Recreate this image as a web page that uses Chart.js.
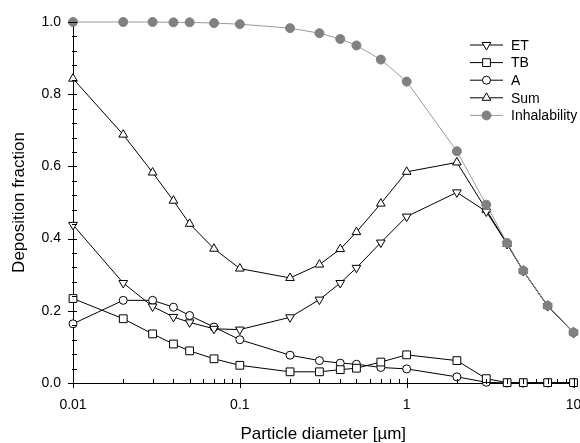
<!DOCTYPE html>
<html>
<head>
<meta charset="utf-8">
<script src="https://cdn.jsdelivr.net/npm/chart.js@4/dist/chart.umd.min.js"></script>
<style>
  html, body { margin:0; padding:0; background:#fff; }
  #wrap { position:relative; width:580px; height:443px; overflow:hidden; }
</style>
</head>
<body>
<div id="wrap"><canvas id="c" width="580" height="443"></canvas></div>
<script>
// particle diameter [um]
const DIAMETER = [0.01,0.02,0.03,0.04,0.05,0.07,0.1,0.2,0.3,0.4,0.5,0.7,1,2,3,4,5,7,10];
const ET    = [0.438,0.277,0.212,0.183,0.168,0.150,0.148,0.182,0.231,0.277,0.319,0.389,0.461,0.528,0.475,0.385,0.310,0.213,0.139];
const TB    = [0.234,0.178,0.136,0.108,0.089,0.067,0.049,0.031,0.031,0.037,0.041,0.058,0.078,0.062,0.012,0.001,0.001,0.001,0.001];
const A     = [0.164,0.229,0.229,0.210,0.187,0.155,0.120,0.077,0.062,0.055,0.052,0.043,0.039,0.017,0.002,0.000,0.000,0.000,0.000];
const SUM   = [0.843,0.688,0.583,0.505,0.441,0.372,0.317,0.291,0.328,0.371,0.418,0.497,0.585,0.611,0.480,0.386,0.311,0.214,0.140];
const INHAL = [1.000,1.000,1.000,0.999,0.999,0.997,0.994,0.983,0.969,0.953,0.935,0.896,0.835,0.642,0.494,0.388,0.311,0.214,0.140];

const X_MAJOR = [0.01,0.1,1,10];
const X_MINOR = [0.02,0.03,0.04,0.05,0.06,0.07,0.08,0.09,0.2,0.3,0.4,0.5,0.6,0.7,0.8,0.9,2,3,4,5,6,7,8,9];
const Y_MAJOR = [0,0.2,0.4,0.6,0.8,1.0];
const Y_MINOR = [0.04,0.08,0.12,0.16,0.24,0.28,0.32,0.36,0.44,0.48,0.52,0.56,0.64,0.68,0.72,0.76,0.84,0.88,0.92,0.96];

const FONT = "Liberation Sans, Arial, Helvetica, sans-serif";
const GRAY = "#808080";

const pts = arr => DIAMETER.map((d,i)=>({x:d, y:arr[i]}));
function series(label, arr, style, radius, rotation){
  return {
    label, data: pts(arr), borderColor:"#000", borderWidth:1,
    pointStyle:style, pointRadius:radius, pointRotation:rotation||0,
    pointBackgroundColor:"#fff", pointBorderColor:"#000", pointBorderWidth:1,
    order:1, clip:false
  };
}
const datasets = [
  series("ET", ET, "triangle", 5, 180),
  series("TB", TB, "rect", 5.5),
  series("A", A, "circle", 4),
  series("Sum", SUM, "triangle", 5),
  { label:"Inhalability", data: pts(INHAL), borderColor:"#9a9a9a", borderWidth:1,
    pointStyle:"circle", pointRadius:4.5, pointBackgroundColor:GRAY, pointBorderColor:GRAY,
    pointBorderWidth:1, order:0, clip:false }
];

// tick marks crossing the axis lines, major + minor
const tickPlugin = {
  id:"axisTicks",
  afterDraw(chart){
    const ctx = chart.ctx, xs = chart.scales.x, ys = chart.scales.y;
    const a = chart.chartArea;
    ctx.save();
    ctx.strokeStyle = "#000"; ctx.lineWidth = 1;
    ctx.beginPath();
    Y_MAJOR.forEach(v=>{ const p = Math.round(ys.getPixelForValue(v))+0.5; ctx.moveTo(a.left-5,p); ctx.lineTo(a.left+4,p); });
    Y_MINOR.forEach(v=>{ const p = Math.round(ys.getPixelForValue(v))+0.5; ctx.moveTo(a.left-1,p); ctx.lineTo(a.left+4,p); });
    X_MAJOR.forEach(v=>{ const p = Math.round(xs.getPixelForValue(v))+0.5; ctx.moveTo(p,a.bottom+5); ctx.lineTo(p,a.bottom-5); });
    X_MINOR.forEach(v=>{ const p = Math.round(xs.getPixelForValue(v))+0.5; ctx.moveTo(p,a.bottom+1); ctx.lineTo(p,a.bottom-4); });
    ctx.stroke();
    ctx.restore();
  }
};

// legend box in the upper right
const legendPlugin = {
  id:"sideLegend",
  afterDraw(chart){
    const ctx = chart.ctx;
    const x0 = 470, x1 = 503, tx = 511, y0 = 45, dy = 17.6;
    ctx.save();
    chart.data.datasets.forEach((ds,i)=>{
      const y = y0 + i*dy;
      ctx.strokeStyle = ds.borderColor; ctx.lineWidth = 1;
      ctx.beginPath(); ctx.moveTo(x0,y); ctx.lineTo(x1,y); ctx.stroke();
      ctx.fillStyle = ds.pointBackgroundColor; ctx.strokeStyle = ds.pointBorderColor;
      Chart.helpers.drawPoint(ctx, {pointStyle:ds.pointStyle, radius:ds.pointRadius,
        rotation:ds.pointRotation||0, borderWidth:1}, (x0+x1)/2, y);
      ctx.fillStyle = "#000"; ctx.font = "14px " + FONT;
      ctx.textBaseline = "middle"; ctx.textAlign = "left";
      ctx.fillText(ds.label, tx, y+1);
    });
    ctx.restore();
  }
};

new Chart(document.getElementById("c"), {
  type:"line",
  data:{ datasets },
  plugins:[tickPlugin, legendPlugin],
  options:{
    responsive:false, animation:false,
    layout:{ padding:{ top:22, right:3, left:0, bottom:0 } },
    plugins:{ legend:{display:false}, tooltip:{enabled:false} },
    scales:{
      x:{
        type:"logarithmic", min:0.01, max:10,
        grid:{ display:false, drawTicks:false },
        border:{ display:true, color:"#000", width:1 },
        afterBuildTicks: s => { s.ticks = X_MAJOR.map(v=>({value:v})); },
        afterFit: s => { s.height = 60; s.paddingRight = 0; s.paddingLeft = 0; },
        ticks:{ color:"#000", padding:14, maxRotation:0, autoSkip:false,
          font:{ family:FONT, size:14 }, callback: v => String(v) },
        title:{ display:true, text:"Particle diameter [µm]", color:"#000",
          font:{ family:FONT, size:17, lineHeight:1.05 }, padding:{ top:0, bottom:0 } }
      },
      y:{
        min:0, max:1.0,
        grid:{ display:false, drawTicks:false },
        border:{ display:true, color:"#000", width:1 },
        afterBuildTicks: s => { s.ticks = Y_MAJOR.map(v=>({value:v})); },
        afterFit: s => { s.width = 73; },
        ticks:{ color:"#000", padding:12, font:{ family:FONT, size:14 },
          callback: v => Number(v).toFixed(1) },
        title:{ display:true, text:"Deposition fraction", color:"#000",
          font:{ family:FONT, size:17 }, padding:{ top:9, bottom:0 } }
      }
    }
  }
});
</script>
</body>
</html>
